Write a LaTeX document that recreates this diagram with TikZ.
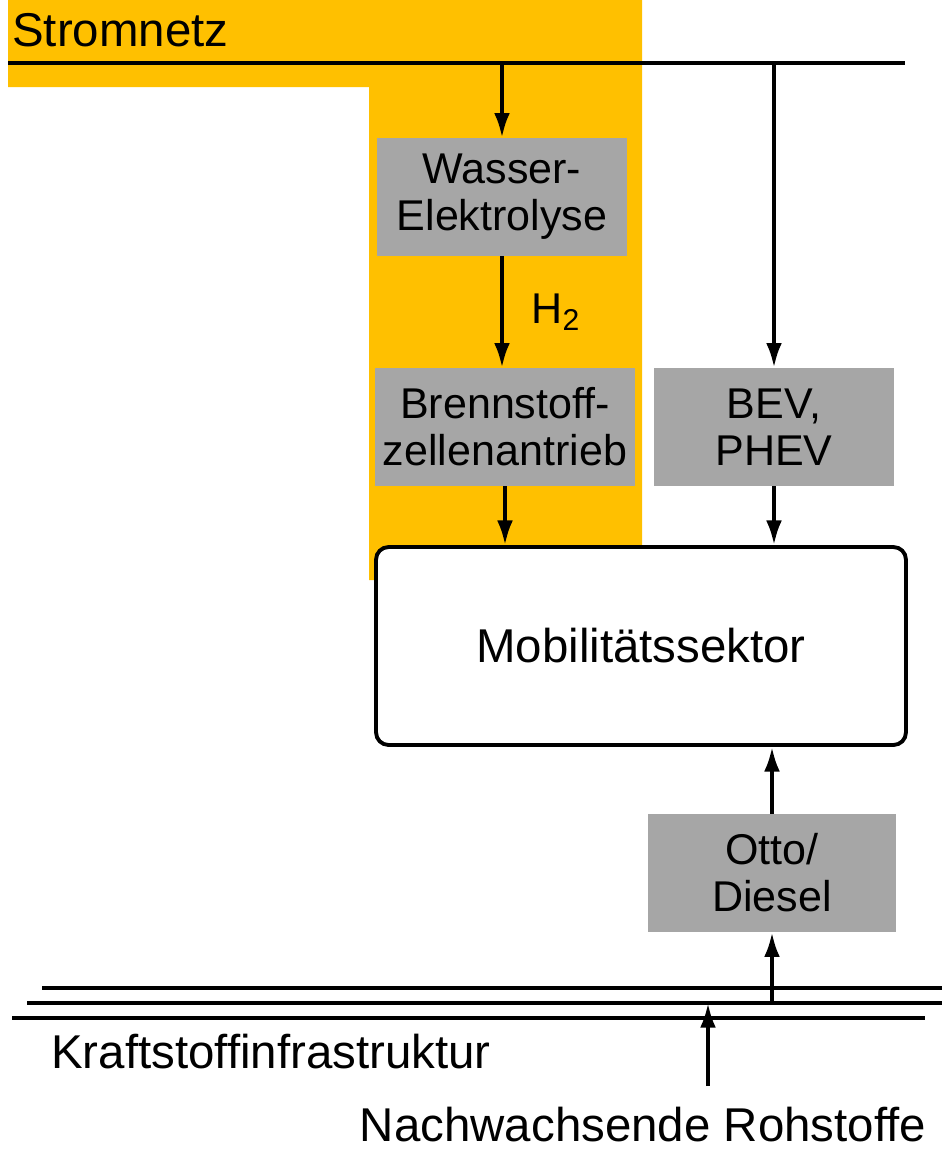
\documentclass[tikz,border=0pt]{standalone}
\usepackage{fontspec}
\setmainfont{Liberation Sans}
\usepackage{tikz}
\usetikzlibrary{shapes,arrows.meta}
\definecolor{netzgelb}{HTML}{FFC000}
\definecolor{kastengrau}{HTML}{A6A6A6}
\tikzstyle{block} = [rectangle, fill=kastengrau, text centered,
    minimum height=2.36cm, inner sep=0pt,
    font=\fontsize{24.5}{26.7}\selectfont]
\tikzstyle{sektor} = [rectangle, draw, line width=2.2pt, fill=white,
    rounded corners=0.25cm, minimum width=10.6cm, minimum height=3.96cm]
\tikzstyle{line} = [draw, line width=2.2pt,
    -{Latex[length=14pt,width=9pt]}]
\tikzstyle{schiene} = [draw, line width=2.4pt]
\tikzstyle{noblock} = [rectangle, inner sep=0pt]

\begin{document}
\begin{tikzpicture}[x=0.02cm, y=-0.02cm, font=\fontsize{27}{27}\selectfont]
 \useasboundingbox (0,0) rectangle (942,1150);
 % Hintergrund
   \fill[netzgelb] (8,0) -- (642,0) -- (642,580) -- (369,580) --
   (369,87) -- (8,87) -- cycle;
 % Place nodes
   \node[noblock, anchor=west] (netz) at (12,30) {Stromnetz};
   \node[block, minimum width=5cm, align=center] (wasser) at (502,197)
   {Wasser-\\Elektrolyse};
   \node[block, minimum width=5.2cm, align=center] (brenn) at (505,427)
   {Brennstoff-\\zellenantrieb};
   \node[block, minimum width=4.8cm, align=center] (bev) at (774,427)
   {BEV,\\PHEV};
   \node[sektor] (mob) at (641,646) {Mobilitätssektor};
   \node[block, minimum width=4.96cm, align=center] (otto) at (772,873)
   {Otto/\\Diesel};
   \node[noblock] (kraft) at (271,1052) {Kraftstoffinfrastruktur};
   \node[noblock] (roh) at (643,1125) {Nachwachsende Rohstoffe};
   \coordinate (sL) at (8,63); \coordinate (sR) at (905,63);
   \coordinate (kA) at (42,988); \coordinate (kB) at (27,1003);
   \coordinate (kC) at (12,1018); \coordinate (rohq) at (708,1086);

 % Draw edges
   \path [schiene] (sL) -- (sR); \path [schiene] (kA) -- (kA -| 942,0);
   \path [schiene] (kB) -- (kB -| 942,0); \path [schiene] (kC) --
   (kC -| 925,0); \path [line] (wasser.north |- sL) -- (wasser.north);
   \path [line] (wasser.south) -- node[noblock, right=0.55cm,
   font=\fontsize{24.5}{26.7}\selectfont] {H\textsubscript{2}}
   (wasser.south |- brenn.north); \path [line]
   (brenn.south) -- (brenn.south |- mob.north); \path [line]
   (bev.north |- sL) -- (bev.north); \path [line] (bev.south) --
   (bev.south |- mob.north); \path [line] (otto.north) --
   (otto.north |- mob.south); \path [line] (otto.south |- kB) --
   (otto.south); \path [line] (rohq) -- (rohq |- kB);
\end{tikzpicture}
\end{document}
